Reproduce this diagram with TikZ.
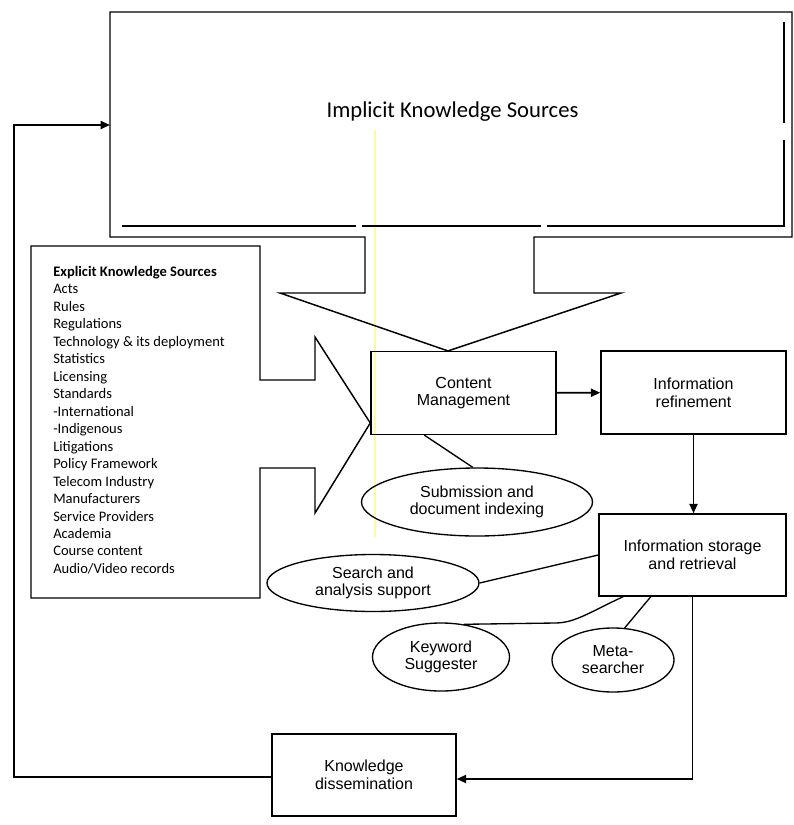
\documentclass[tikz,border=0pt]{standalone}
\usepackage{fontspec}
\setmainfont{Liberation Sans}
\newfontfamily\calfont{Carlito}
\usepackage{tikz}
\usetikzlibrary{shapes.geometric,arrows.meta}

\begin{document}
\begin{tikzpicture}[x=0.75pt,y=0.75pt,yscale=-1,xscale=1,
    box/.style={draw,line width=1.1pt,minimum width=138.75pt,minimum height=62pt,inner sep=0pt,align=center,font=\fontsize{12}{13.3}\selectfont},
    oval/.style={draw,ellipse,line width=1pt,inner sep=0pt,align=center,font=\fontsize{12}{12.8}\selectfont},
    flow/.style={line width=1.4pt,-{Triangle[length=7pt,width=6pt]}},
    link/.style={line width=1pt}]
\useasboundingbox (0,0) rectangle (793,825);

%Straight Lines (highlighter mark)
    \draw [yellow!35, line width=0.8pt] (375,130) -- (375,537) ;

% Text Node
    \node [font=\calfont\fontsize{17}{20}\selectfont] (impl) at (452.5,112) {Implicit Knowledge Sources};
% Text Node
    \node [anchor=north west, inner sep=0pt, align=left, font=\calfont\fontsize{10.9}{13.1}\selectfont] (expl) at (53,266)
      {\textbf{Explicit Knowledge Sources}\\Acts\\Rules\\Regulations\\Technology \& its deployment\\Statistics\\Licensing\\Standards\\-International\\-Indigenous\\Litigations\\Policy Framework\\Telecom Industry\\Manufacturers\\Service Providers\\Academia\\Course content\\Audio/Video records};

%Shape: Rectangle
    \node [box] (cm) at (463.5,393) {Content\\Management};
%Shape: Rectangle
    \node [box] (ir) at (693.5,392.5) {Information\\refinement};
%Shape: Rectangle
    \node [box, minimum width=140.25pt, minimum height=61.5pt] (is) at (692.5,555) {Information storage\\and retrieval};
%Shape: Rectangle
    \node [box, minimum width=138pt, minimum height=61.5pt] (kd) at (364,775) {Knowledge\\dissemination};

%Shape: Ellipse
    \node [oval, minimum width=173.25pt, minimum height=51pt] (sub) at (477,502) {Submission and\\document indexing};
%Shape: Ellipse
    \node [oval, minimum width=159pt, minimum height=42.75pt] (sas) at (373,583) {Search and\\analysis support};
%Shape: Ellipse
    \node [oval, minimum width=102.75pt, minimum height=51pt] (kw) at (441,657) {Keyword\\Suggester};
%Shape: Ellipse
    \node [oval, minimum width=91.5pt, minimum height=48pt] (meta) at (613,660) {Meta-\\searcher};

%Shape: Callout (implicit)
    \draw [line width=1.1pt] (110,12) -- (792,12) -- (792,237) -- (534,237) -- (534,293) -- (621,293) -- (cm.north -| 448,0) -- (280,293) -- (365,293) -- (365,237) -- (110,237) -- cycle ;
    \draw [line width=0.9pt] (122,226) -- (356,226) (362,226) -- (541,226) (547,226) -- (784,226) -- (784,140) (784,123) -- (784,22) ;
%Shape: Callout (explicit)
    \draw [line width=1.1pt] (31,246) -- (260,246) -- (260,380) -- (315,380) -- (315,337) -- (cm.west |- 0,423) -- (315,513) -- (315,468) -- (260,468) -- (260,598) -- (31,598) -- cycle ;

%Straight Lines
    \draw [flow] (cm) -- (ir) ;
    \draw [flow] (ir.south) -- (ir.south |- is.north) ;
    \draw [flow] (is.south) |- ([yshift=3pt]kd.east) ;
    \draw [flow] ([yshift=1.5pt]kd.west) -- ++(-257,0) |- (110,125) ;
%Straight Lines
    \draw [link] (cm.227) -- (sub.97) ;
    \draw [link] (sas.east) -- (is.west) ;
    \draw [link] (meta.70) -- (is.225) ;
%Curve Lines
    \draw [link] (is.211) .. controls (590,612) and (575,623) .. (555,623) -- (kw.55) ;

\end{tikzpicture}
\end{document}
